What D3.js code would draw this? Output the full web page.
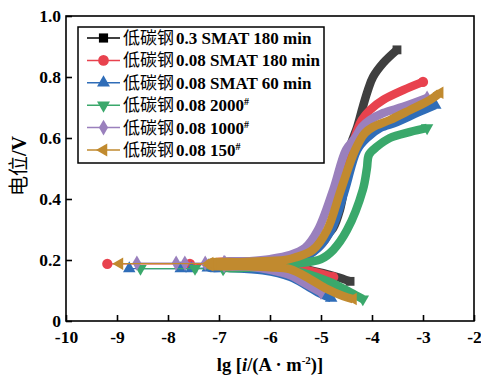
<!DOCTYPE html>
<html>
<head>
<meta charset="utf-8">
<script src="https://cdnjs.cloudflare.com/ajax/libs/d3/7.8.5/d3.min.js"></script>
<style>
  body { margin: 0; background: #fff; }
  text { font-family: "Liberation Serif", "Noto Sans CJK SC", serif; }
</style>
</head>
<body>
<div id="chart"></div>
<script>
// Data: [lg i, potential V]
var seriesNames = ["0.3 SMAT 180 min", "0.08 SMAT 180 min", "0.08 SMAT 60 min", "0.08 2000", "0.08 1000", "0.08 150"];
var seriesSup = ["", "", "", "#", "#", "#"];
var seriesPrefix = "低碳钢";
var xTicks = [-10, -9, -8, -7, -6, -5, -4, -3, -2];
var yTicks = [0, 0.2, 0.4, 0.6, 0.8, 1.0];

var blackCath = [[-6.9,0.183],[-6.3,0.182],[-5.8,0.18],[-5.47,0.175],[-4.96,0.157],[-4.7,0.145],[-4.43,0.13]];
var blackAnod = [[-6.9,0.188],[-6.3,0.19],[-5.8,0.192],[-5.47,0.198],[-5.2,0.225],[-4.98,0.266],[-4.76,0.305],[-4.63,0.364],[-4.55,0.43],[-4.49,0.495],[-4.43,0.57],[-4.29,0.636],[-4.18,0.702],[-4.08,0.757],[-3.98,0.8],[-3.78,0.846],[-3.51,0.889]];
var blackTail = [];

var redCath = [[-7.1,0.182],[-6.4,0.182],[-5.8,0.178],[-5.4,0.172],[-5.16,0.162],[-4.76,0.144]];
var redAnod = [[-7.1,0.19],[-6.4,0.192],[-5.8,0.196],[-5.41,0.205],[-5.15,0.228],[-4.92,0.266],[-4.67,0.364],[-4.53,0.462],[-4.43,0.544],[-4.29,0.626],[-4.2,0.659],[-4.04,0.692],[-3.78,0.725],[-3.39,0.757],[-3.0,0.784]];
var redTail = [[-7.57,0.187],[-9.19,0.187]];

var blueCath = [[-7.2,0.176],[-6.78,0.174],[-6.14,0.166],[-5.61,0.145],[-5.27,0.115],[-5.02,0.09],[-4.8,0.075]];
var blueAnod = [[-7.2,0.182],[-6.5,0.185],[-6.0,0.19],[-5.45,0.2],[-5.06,0.239],[-4.78,0.305],[-4.53,0.43],[-4.29,0.561],[-4.08,0.603],[-3.84,0.633],[-3.51,0.652],[-3.12,0.682],[-2.76,0.708]];
var blueTail = [[-7.22,0.174],[-7.54,0.172],[-7.75,0.172],[-8.76,0.172]];

var greenCath = [[-6.9,0.176],[-6.3,0.175],[-5.8,0.17],[-5.35,0.158],[-4.82,0.127],[-4.43,0.094],[-4.18,0.072]];
var greenAnod = [[-6.9,0.184],[-6.3,0.186],[-5.8,0.188],[-5.41,0.19],[-5.0,0.203],[-4.76,0.233],[-4.49,0.298],[-4.18,0.43],[-4.1,0.5],[-4.06,0.545],[-3.9,0.572],[-3.65,0.6],[-3.25,0.62],[-2.92,0.633]];
var greenTail = [[-6.92,0.17],[-7.47,0.172],[-8.54,0.172]];

var purpleCath = [[-6.9,0.182],[-6.4,0.178],[-6.0,0.168],[-5.6,0.15],[-5.3,0.122],[-5.0,0.094]];
var purpleAnod = [[-6.9,0.192],[-6.4,0.196],[-6.0,0.203],[-5.61,0.216],[-5.31,0.24],[-5.06,0.298],[-4.76,0.43],[-4.51,0.561],[-4.33,0.6],[-4.2,0.636],[-4.04,0.659],[-3.78,0.682],[-3.39,0.702],[-2.92,0.731]];
var purpleTail = [[-6.88,0.19],[-7.27,0.19],[-7.67,0.19],[-7.84,0.19],[-8.61,0.19]];

var goldCath = [[-7.18,0.183],[-6.6,0.18],[-6.0,0.176],[-5.61,0.17],[-5.22,0.138],[-4.88,0.105],[-4.57,0.082],[-4.37,0.072]];
var goldAnod = [[-7.18,0.19],[-6.6,0.193],[-6.0,0.197],[-5.7,0.2],[-5.51,0.208],[-5.16,0.233],[-4.88,0.298],[-4.61,0.43],[-4.33,0.561],[-4.14,0.616],[-3.98,0.636],[-3.65,0.659],[-3.25,0.692],[-2.86,0.725],[-2.67,0.748]];
var goldTail = [[-7.12,0.188],[-8.95,0.188]];

var colors = ["#3f3f3f", "#e8424e", "#2f6db8", "#3aa86b", "#9a80bd", "#c18a2f"];
var legendColors = ["#000000", "#e8424e", "#2f6db8", "#3aa86b", "#9a80bd", "#c18a2f"];
var symbols = [d3.symbolSquare, d3.symbolCircle, d3.symbolTriangle, d3.symbolTriangle, d3.symbolDiamond, d3.symbolTriangle];
var symbolRot = [0, 0, 0, 180, 0, -90];
var symbolSize = [60, 64, 52, 52, 52, 52];

var allSeries = [
  {cath: blackCath, anod: blackAnod, tail: blackTail},
  {cath: redCath, anod: redAnod, tail: redTail},
  {cath: blueCath, anod: blueAnod, tail: blueTail},
  {cath: greenCath, anod: greenAnod, tail: greenTail},
  {cath: purpleCath, anod: purpleAnod, tail: purpleTail},
  {cath: goldCath, anod: goldAnod, tail: goldTail}
];

var svgWidth = 481;
var svgHeight = 376;
var margin = {top: 16, right: 7, bottom: 55, left: 66};
var width = svgWidth - margin.left - margin.right;
var height = svgHeight - margin.top - margin.bottom;

var svg = d3.select("#chart")
  .append("svg")
  .attr("width", svgWidth)
  .attr("height", svgHeight);

var chartGroup = svg.append("g")
  .attr("transform", `translate(${margin.left}, ${margin.top})`);

var xScale = d3.scaleLinear().domain([-10, -2]).range([0, width]);
var yScale = d3.scaleLinear().domain([0, 1]).range([height, 0]);

// axes with inward ticks
var bottomAxis = d3.axisBottom(xScale).tickValues(xTicks).tickSizeInner(-6).tickSizeOuter(0).tickPadding(10)
  .tickFormat(d => d);
var leftAxis = d3.axisLeft(yScale).tickValues(yTicks).tickSizeInner(-6).tickSizeOuter(0).tickPadding(5)
  .tickFormat(d => d === 0 ? "0" : d3.format(".1f")(d));

var gx = chartGroup.append("g")
  .attr("transform", `translate(0, ${height})`)
  .call(bottomAxis);
var gy = chartGroup.append("g").call(leftAxis);

[gx, gy].forEach(function(g) {
  g.select(".domain").remove();
  g.selectAll("line").attr("stroke", "#000").attr("stroke-width", 1.6);
  g.selectAll("text")
    .attr("fill", "#000")
    .style("font-family", "'Liberation Serif', serif")
    .style("font-size", "17.5px")
    .style("font-weight", "bold");
});

// curves
var lineRaw = d3.line()
  .x(d => xScale(d[0]))
  .y(d => yScale(d[1]))
  .curve(d3.curveCatmullRom);

allSeries.forEach(function(s, i) {
  var g = chartGroup.append("g");
  var main = s.cath.slice().reverse().concat(s.anod);

  if (s.tail.length) {
    g.append("path")
      .attr("d", d3.line().x(d => xScale(d[0])).y(d => yScale(d[1]))([s.cath[0]].concat(s.tail)))
      .attr("fill", "none")
      .attr("stroke", colors[i])
      .attr("stroke-width", 1.2);
  }

  g.append("path")
    .attr("d", lineRaw(main))
    .attr("fill", "none")
    .attr("stroke", colors[i])
    .attr("stroke-width", 8.5)
    .attr("stroke-linejoin", "round");

  var pts = s.tail.concat([s.cath[0], s.anod[0], s.cath[s.cath.length - 1], s.anod[s.anod.length - 1]]);
  g.selectAll("path.mk")
    .data(pts)
    .enter()
    .append("path")
    .attr("class", "mk")
    .attr("d", d3.symbol().type(symbols[i]).size(symbolSize[i] * 1.3))
    .attr("transform", d => `translate(${xScale(d[0])}, ${yScale(d[1])}) rotate(${symbolRot[i]})`)
    .attr("fill", colors[i]);
});

// frame
chartGroup.append("rect")
  .attr("x", 0).attr("y", 0)
  .attr("width", width).attr("height", height)
  .attr("fill", "none")
  .attr("stroke", "#000")
  .attr("stroke-width", 1.6);

// axis titles
svg.append("text")
  .attr("transform", "translate(26, 166) rotate(-90)")
  .attr("text-anchor", "middle")
  .style("font-size", "20px")
  .html('<tspan style="font-family:\'Noto Sans CJK SC\'">电位</tspan><tspan style="font-weight:bold">/V</tspan>');

svg.append("text")
  .attr("x", 270)
  .attr("y", 371)
  .attr("text-anchor", "middle")
  .style("font-size", "18.5px")
  .style("font-weight", "bold")
  .html('lg [<tspan font-style="italic">i</tspan>/(A · m<tspan dy="-7" font-size="11px">-2</tspan><tspan dy="7">)]</tspan>');

// legend
var legend = svg.append("g");
legend.append("rect")
  .attr("x", 78).attr("y", 27)
  .attr("width", 246).attr("height", 136)
  .attr("fill", "#fff")
  .attr("stroke", "#000")
  .attr("stroke-width", 1.5);

var legendY = d3.scaleLinear().domain([0, 5]).range([38, 150]);

seriesNames.forEach(function(name, i) {
  var y = legendY(i);
  legend.append("line")
    .attr("x1", 87).attr("x2", 120)
    .attr("y1", y).attr("y2", y)
    .attr("stroke", legendColors[i])
    .attr("stroke-width", 1.5);
  legend.append("path")
    .attr("d", d3.symbol().type(symbols[i]).size(symbolSize[i] * 1.4))
    .attr("transform", `translate(103.5, ${y}) rotate(${symbolRot[i]})`)
    .attr("fill", legendColors[i]);
  var t = legend.append("text")
    .attr("x", 123)
    .attr("y", y + 6)
    .style("font-size", "17px");
  t.append("tspan").style("font-family", "'Noto Sans CJK SC'").text(seriesPrefix);
  t.append("tspan").attr("dx", 2).style("font-weight", "bold").text(name);
  if (seriesSup[i]) {
    t.append("tspan").attr("dy", -6).style("font-weight", "bold").style("font-size", "10px").text(seriesSup[i]);
  }
});
</script>
</body>
</html>
